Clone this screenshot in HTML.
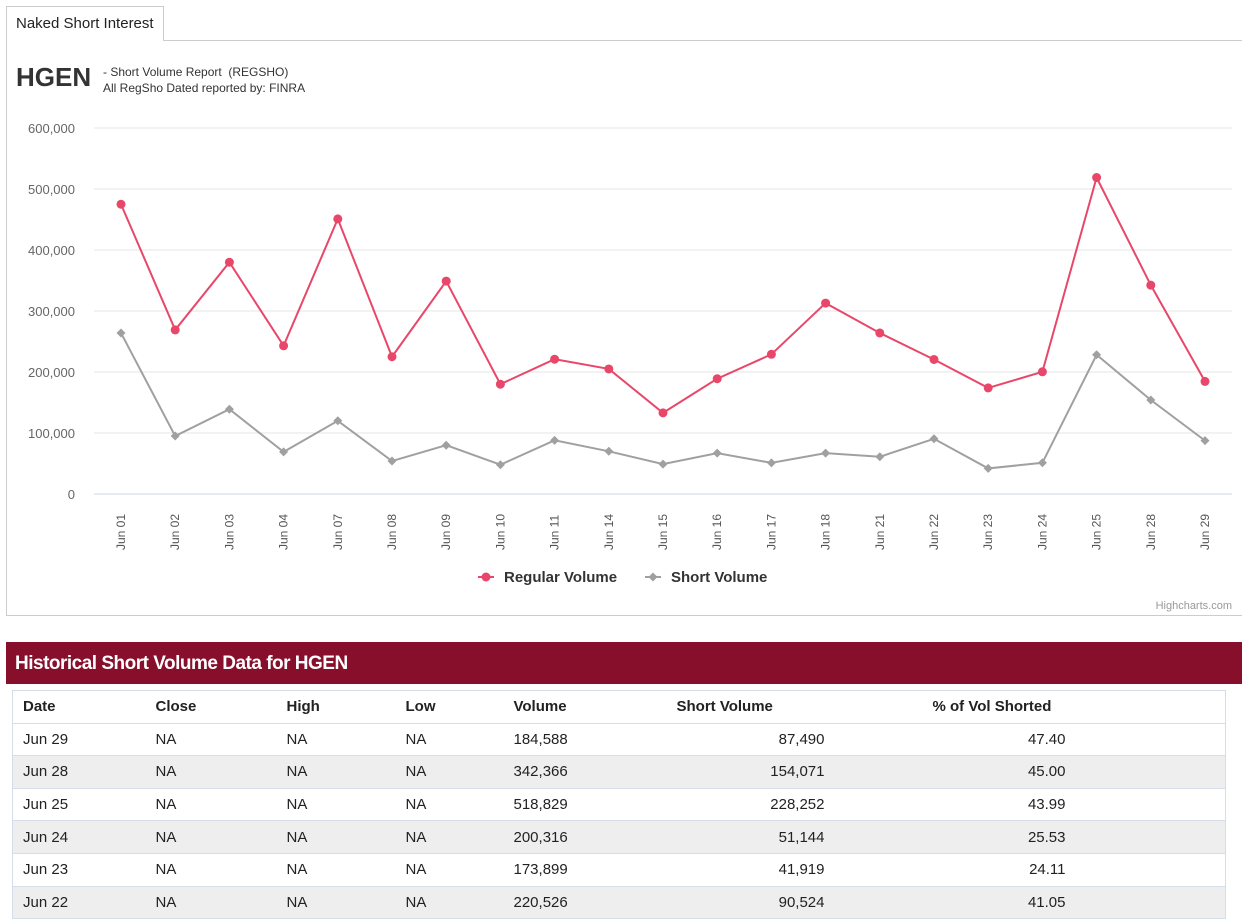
<!DOCTYPE html>
<html><head><meta charset="utf-8"><style>
body{margin:0;width:1242px;height:918px;overflow:hidden;background:#fff;font-family:"Liberation Sans",sans-serif;color:#222;position:relative}
.abs{position:absolute}
table{border-collapse:collapse;table-layout:fixed}
td{font-size:15px;height:32.6px;border-top:1px solid #d5dee8;padding:0;color:#222;white-space:nowrap;box-sizing:border-box}
</style></head><body>
<div class="abs" style="left:6px;top:6px;width:156px;height:34px;border:1px solid #ccc;border-bottom:none;background:#fff;z-index:2;font-size:15px;line-height:34px;text-indent:9px;color:#222">Naked Short Interest</div>
<div class="abs" style="left:6px;top:40px;width:1235px;height:574px;border:1px solid #ccc"></div>
<div class="abs" style="left:16px;top:62px;font-size:26px;font-weight:bold;color:#333">HGEN</div>
<div class="abs" style="left:103px;top:64px;font-size:12px;line-height:16px;color:#333">- Short Volume Report &nbsp;(REGSHO)<br>All RegSho Dated reported by: FINRA</div>
<svg class="abs" style="left:0;top:0" width="1242" height="620" id="chart"></svg>
<div class="abs" style="left:6px;top:642px;width:1236px;height:42px;background:#870f2b;color:#fff;font-size:19px;font-weight:bold;line-height:44px;text-indent:9px;letter-spacing:-0.5px">Historical Short Volume Data for HGEN</div>
<div class="abs" style="left:6px;top:684px;width:1236px;height:234px;background:#fff"></div>
<table class="abs" style="left:12px;top:690px;width:1213px;border:1px solid #d5dee8" id="tbl"></table>
<script>
const dates=["Jun 01","Jun 02","Jun 03","Jun 04","Jun 07","Jun 08","Jun 09","Jun 10","Jun 11","Jun 14","Jun 15","Jun 16","Jun 17","Jun 18","Jun 21","Jun 22","Jun 23","Jun 24","Jun 25","Jun 28","Jun 29"];
const regular=[475000,269000,380000,243000,451000,225000,349000,180000,221000,205000,133000,189000,229000,313000,264000,220526,173899,200316,518829,342366,184588];
const shortVol=[264000,95000,139000,69000,120000,54000,80000,48000,88000,70000,49000,67000,51000,67000,61000,90524,41919,51144,228252,154071,87490];
const yTicks=[0,100000,200000,300000,400000,500000,600000];
const rows=[["Jun 29","NA","NA","NA","184,588","87,490","47.40"],["Jun 28","NA","NA","NA","342,366","154,071","45.00"],["Jun 25","NA","NA","NA","518,829","228,252","43.99"],["Jun 24","NA","NA","NA","200,316","51,144","25.53"],["Jun 23","NA","NA","NA","173,899","41,919","24.11"],["Jun 22","NA","NA","NA","220,526","90,524","41.05"]];
const NS="http://www.w3.org/2000/svg";
const svg=document.getElementById('chart');
function mk(t,a,p){const e=document.createElementNS(NS,t);for(const k in a)e.setAttribute(k,a[k]);(p||svg).appendChild(e);return e;}
const x=i=>121+i*(1205-121)/(dates.length-1);
const y=v=>494-v*(494-128)/600000;
yTicks.forEach(t=>{
 const l=mk('line',{x1:94,x2:1232,y1:y(t),y2:y(t),stroke:t===0?'#ccd6eb':'#e6e6e6','stroke-width':1});
 
 const tx=mk('text',{x:75,y:y(t)+5,'text-anchor':'end','font-size':13,fill:'#666'});tx.textContent=t.toLocaleString('en-US');
 
});
dates.forEach((d,i)=>{
 const tx=mk('text',{x:0,y:0,transform:`translate(${x(i)+4},${550}) rotate(-90)`,'font-size':12,fill:'#555'});tx.textContent=d;
 
});
function series(vals,col,shape,name){
 const p=mk('polyline',{points:vals.map((v,i)=>x(i)+','+y(v)).join(' '),fill:'none',stroke:col,'stroke-width':2});
 
 vals.forEach((v,i)=>{let m;
  if(shape==='c')m=mk('circle',{cx:x(i),cy:y(v),r:4.5,fill:col});
  else m=mk('path',{d:`M${x(i)},${y(v)-4.5}L${x(i)+4.5},${y(v)}L${x(i)},${y(v)+4.5}L${x(i)-4.5},${y(v)}Z`,fill:col});
  });
}
series(shortVol,'#a0a0a0','d','short-volume');
series(regular,'#e8476a','c','regular-volume');
[[478,'#e8476a','c','Regular Volume','legend-regular-volume'],[645,'#a0a0a0','d','Short Volume','legend-short-volume']].forEach(L=>{
 const g=mk('g',{});
 mk('line',{x1:L[0],x2:L[0]+16,y1:577,y2:577,stroke:L[1],'stroke-width':2},g);
 if(L[2]==='c')mk('circle',{cx:L[0]+8,cy:577,r:4.5,fill:L[1]},g);else mk('path',{d:`M${L[0]+8},572.5L${L[0]+12.5},577L${L[0]+8},581.5L${L[0]+3.5},577Z`,fill:L[1]},g);
 const t=mk('text',{x:L[0]+26,y:582,'font-size':15,'font-weight':'bold',fill:'#333'},g);t.textContent=L[3];
});
const cr=mk('text',{x:1232,y:609,'text-anchor':'end','font-size':11,fill:'#999'});cr.textContent='Highcharts.com';

const tbl=document.getElementById('tbl');
const cols=[{w:133,a:'left',p:10},{w:131,a:'left',p:10},{w:119,a:'left',p:10},{w:108,a:'left',p:10},{w:163,a:'left',p:10},{w:158,a:'right',p:0},{w:241,a:'right',p:0},{w:160}];
function addRow(vals,bold,bg,name){
 const tr=document.createElement('tr');tr.style.background=bg;
 cols.forEach((c,i)=>{const td=document.createElement('td');td.style.width=c.w+'px';
  td.textContent=vals[i]||'';
  td.style.textAlign=c.a||'left';td.style.paddingLeft=(c.p||0)+'px';
  if(bold)td.style.fontWeight='bold';
  tr.appendChild(td);});
 tbl.appendChild(tr);return tr;
}
const h=addRow(["Date","Close","High","Low","","",""],true,'#fff','table-header-row');
h.children[4].style.position='relative';h.children[4].style.overflow='visible';
h.children[4].innerHTML='Volume<span style="position:absolute;left:173px;top:7px">Short Volume</span><span style="position:absolute;left:429px;top:7px">% of Vol Shorted</span>';
rows.forEach((r,i)=>addRow(r,false,i%2?'#eeeeee':'#fff','table-row'));
</script>
</body></html>
